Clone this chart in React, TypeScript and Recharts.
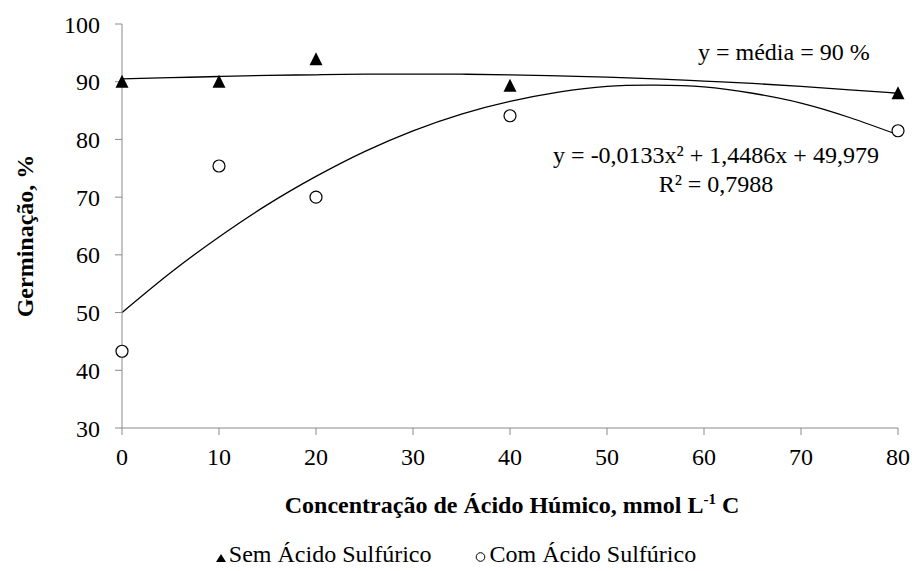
import * as React from "react"
import { ComposedChart, Line, Scatter, XAxis, YAxis, Legend, Customized } from "recharts"

const FONT = "Liberation Serif, Times New Roman, DejaVu Serif, serif"

// measured points
const concentracoes = [0, 10, 20, 40, 80]
const semAcido = [90.0, 90.0, 93.9, 89.3, 88.0]
const comAcido = [43.3, 75.4, 70.0, 84.1, 81.5]

// trend lines, every 5 units
const curvaX = [0, 5, 10, 15, 20, 25, 30, 35, 40, 45, 50, 55, 60, 65, 70, 75, 80]
const curvaSem = [90.5, 90.7, 90.9, 91.1, 91.2, 91.3, 91.3, 91.3, 91.2, 91.0, 90.8, 90.5, 90.1, 89.7, 89.2, 88.6, 88.0]
const curvaCom = [50.0, 56.9, 63.1, 68.7, 73.6, 77.9, 81.5, 84.4, 86.6, 88.2, 89.2, 89.4, 89.1, 88.0, 86.3, 83.8, 80.8]

const xTicks = [0, 10, 20, 30, 40, 50, 60, 70, 80]
const yTicks = [30, 40, 50, 60, 70, 80, 90, 100]

const semPoints = concentracoes.map((x, i) => ({ x, y: semAcido[i] }))
const comPoints = concentracoes.map((x, i) => ({ x, y: comAcido[i] }))
const semCurve = curvaX.map((x, i) => ({ x, y: curvaSem[i] }))
const comCurve = curvaX.map((x, i) => ({ x, y: curvaCom[i] }))

const AXIS = "#8a8a8a"

function Triangle(props: any) {
  const { cx, cy } = props
  if (cx == null || cy == null) return null
  return <polygon points={`${cx},${cy - 7} ${cx - 6.5},${cy + 6} ${cx + 6.5},${cy + 6}`} fill="#000" />
}

function Ring(props: any) {
  const { cx, cy } = props
  if (cx == null || cy == null) return null
  return <circle cx={cx} cy={cy} r={6} fill="#fff" stroke="#000" strokeWidth={1.2} />
}

function XTitle({ viewBox }: any) {
  const { x, y, width } = viewBox
  return (
    <text x={x + width / 2 + 2} y={y + 85} textAnchor="middle" style={{ fontFamily: FONT, fontSize: 24, fontWeight: "bold" }} fill="#000">
      Concentração de Ácido Húmico, mmol L
      <tspan fontSize={15} dy={-9}>-1</tspan>
      <tspan dy={9}> C</tspan>
    </text>
  )
}

function Annotations() {
  return (
    <g style={{ fontFamily: FONT, fontSize: 24 }} fill="#000">
      <text x={698} y={60}>y = média = 90 %</text>
      <text x={716} y={163} textAnchor="middle">y = -0,0133x² + 1,4486x + 49,979</text>
      <text x={716} y={192} textAnchor="middle">R² = 0,7988</text>
      <text transform="translate(33, 236) rotate(-90)" textAnchor="middle" style={{ fontWeight: "bold" }}>
        Germinação, %
      </text>
    </g>
  )
}

function LegendBox() {
  return (
    <div style={{ display: "flex", justifyContent: "center", alignItems: "baseline", fontFamily: FONT, fontSize: 24, lineHeight: "24px", color: "#000" }}>
      <svg width={10} height={8} style={{ marginRight: 3 }}>
        <polygon points="5,0 0,8 10,8" fill="#000" />
      </svg>
      <span>Sem Ácido Sulfúrico</span>
      <svg width={11} height={10} style={{ marginLeft: 44, marginRight: 3, marginBottom: -1 }}>
        <circle cx={5.5} cy={5} r={4.3} fill="#fff" stroke="#000" strokeWidth={1} />
      </svg>
      <span>Com Ácido Sulfúrico</span>
    </div>
  )
}

export default function App() {
  const tick = { fill: "#000", fontSize: 24, fontFamily: FONT, style: { fontFamily: FONT } }
  return (
    <div style={{ position: "absolute", left: 0, top: 0, width: 912, height: 571, background: "#fff", fontFamily: FONT }}>
      <ComposedChart width={912} height={571} margin={{ top: 24, right: 14, bottom: 0, left: 0 }} style={{ fontFamily: FONT }}>
        <XAxis
          type="number"
          dataKey="x"
          domain={[0, 80]}
          ticks={xTicks}
          height={143}
          stroke={AXIS}
          tick={tick}
          tickSize={7}
          tickMargin={13}
          label={<XTitle />}
        />
        <YAxis
          type="number"
          dataKey="y"
          domain={[30, 100]}
          ticks={yTicks}
          width={122}
          stroke={AXIS}
          tick={tick}
          tickSize={7}
          tickMargin={15}
        />
        <Line data={semCurve} dataKey="y" type="natural" stroke="#000" strokeWidth={1.3} dot={false} isAnimationActive={false} legendType="none" />
        <Line data={comCurve} dataKey="y" type="natural" stroke="#000" strokeWidth={1.3} dot={false} isAnimationActive={false} legendType="none" />
        <Scatter data={semPoints} dataKey="y" shape={Triangle} isAnimationActive={false} />
        <Scatter data={comPoints} dataKey="y" shape={Ring} isAnimationActive={false} />
        <Customized component={Annotations} />
        <Legend
          layout="horizontal"
          verticalAlign="middle"
          align="center"
          content={() => <LegendBox />}
          wrapperStyle={{ position: "absolute", left: 0, top: 542, width: 912 }}
        />
      </ComposedChart>
    </div>
  )
}
